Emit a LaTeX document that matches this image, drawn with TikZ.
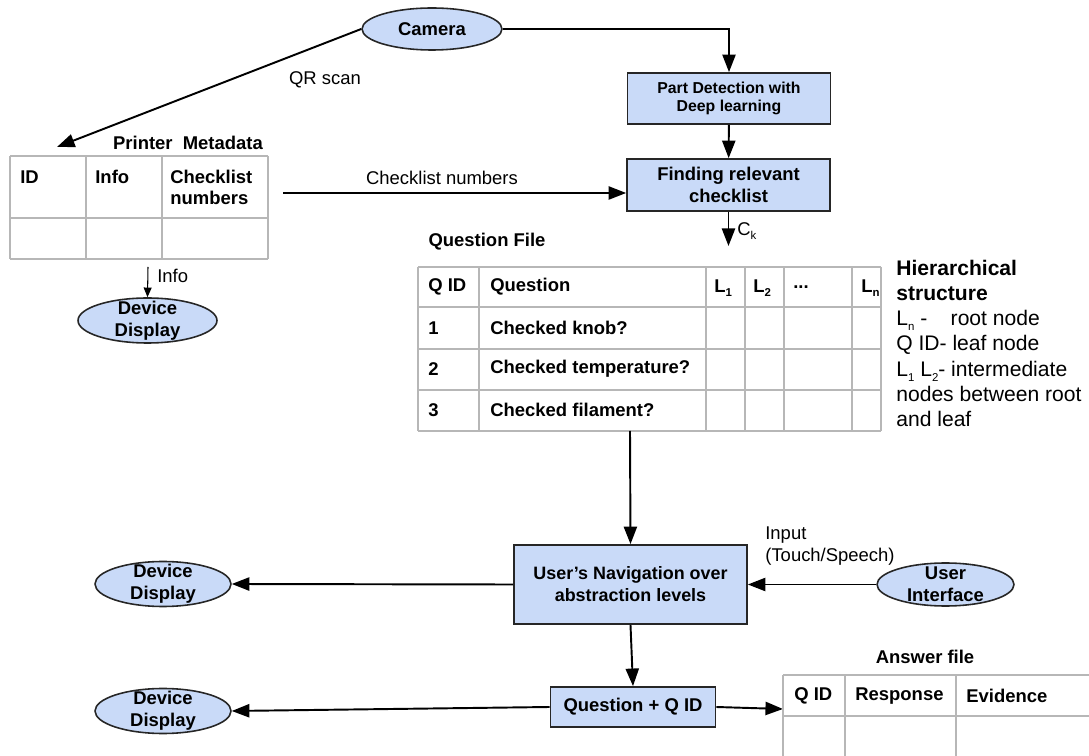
\documentclass[tikz,border=0pt]{standalone}
\usepackage{fontspec}
\setmainfont{Liberation Sans}
\usepackage{tikz}
\usetikzlibrary{shapes.geometric,arrows.meta,calc}

\definecolor{boxblue}{HTML}{C9DAF8}
\definecolor{gridgray}{HTML}{B7B7B7}
\newcommand{\lowsub}[1]{\raisebox{-0.45ex}{\fontsize{6.5}{6.5}\selectfont #1}}

\begin{document}
\begin{tikzpicture}[x=0.02cm,y=-0.02cm,
  blockbox/.style={rectangle,draw=black!85,line width=1pt,fill=boxblue,align=center,inner sep=0pt,
    font=\bfseries\fontsize{10.5}{12.5}\selectfont},
  blob/.style={ellipse,draw=black!85,line width=0.9pt,fill=boxblue,inner sep=0pt},
  blobtext/.style={font=\bfseries\fontsize{10.5}{12.3}\selectfont,align=center},
  flow/.style={line width=1.1pt,-{Triangle[width=7.5pt,length=10pt]}},
  thinflow/.style={line width=0.6pt,-{Triangle[width=4.5pt,length=5.5pt]}},
  gridline/.style={draw=gridgray,line width=0.6pt},
  cell/.style={anchor=west,inner sep=0pt,align=left,font=\bfseries\fontsize{10.5}{12}\selectfont},
  note/.style={inner sep=0pt,align=left,font=\fontsize{10.5}{12.5}\selectfont},
  caption/.style={inner sep=0pt,font=\bfseries\fontsize{10.5}{12}\selectfont}]

\useasboundingbox (0,0) rectangle (1089,756);

% Camera and detection
\node (camera) at (432,29) [blob,minimum width=2.8cm,minimum height=0.84cm] {\bfseries\fontsize{10.5}{12}\selectfont Camera};
\node (partdet) at (729,98.5) [blockbox,minimum width=4.06cm,minimum height=1.02cm,
  font=\bfseries\fontsize{9}{10.3}\selectfont] {Part Detection with\\Deep learning};
\node (findrel) at (728.5,185) [blockbox,minimum width=4.06cm,minimum height=1.04cm] {Finding relevant\\checklist};
\draw[flow] (camera.east) -| (partdet.north);
\draw[flow] (partdet) -- (findrel);

% Printer metadata
\node (prcap) at (188,143) [caption] {Printer\ \ Metadata};
\foreach \xx in {10,86,162,268} \draw[gridline] (\xx,156) -- (\xx,259);
\foreach \yy in {156,218,259} \draw[gridline] (10,\yy) -- (268,\yy);
\node (prid) at (20,177) [cell] {ID};
\node (prinfo) at (95,177) [cell] {Info};
\node (prnum) at (170,187.5) [cell] {Checklist\\numbers};
\coordinate (prtop) at (57,147);
\coordinate (prout) at (283,193);
\coordinate (prbot) at (148,267);
\draw[flow] (camera.west) -- (prtop);
\node (qrlabel) at (325,80) [note] {QR scan};
\draw[flow] (prout) -- (prout -| findrel.west);
\node (cllabel) at (442,178) [note] {Checklist numbers};

\node (dispa) at (147.5,320.5) [blob,minimum width=2.78cm,minimum height=0.9cm,
  label={[blobtext]center:Device\\Display}] {};
\draw[thinflow] (prbot) -- (dispa.north);
\node (infolabel) at (157,276) [note,anchor=west] {Info};

% Question file
\node (qcap) at (487,242) [caption] {Question File};
\foreach \xx in {418,479,706,745,784,852,881} \draw[gridline] (\xx,267) -- (\xx,431);
\foreach \yy in {267,307,349,390,431} \draw[gridline] (418,\yy) -- (881,\yy);
\node (qhid) at (428,287) [cell] {Q ID};
\node (qhq) at (490,287) [cell] {Question};
\node (qhla) at (714,288) [cell] {L\lowsub{1}};
\node (qhlb) at (753,288) [cell] {L\lowsub{2}};
\node (qhdots) at (793,287) [cell] {...};
\node (qhln) at (861,288) [cell] {L\lowsub{n}};
\node (qida) at (428,328) [cell] {1};
\node (qqa) at (490,328) [cell] {Checked knob?};
\node (qidb) at (428,369) [cell] {2};
\node (qqb) at (490,369) [cell] {Checked temperature?};
\node (qidc) at (428,410) [cell] {3};
\node (qqc) at (490,410) [cell] {Checked filament?};
\coordinate (qin) at (728.5,246);
\coordinate (qbot) at (630,431);
\draw[flow] (findrel.south) -- (qin);
\node (cklabel) at (737,231) [note,anchor=west] {C\lowsub{k}};

\node (hier) at (896,260) [anchor=north west,inner sep=0pt,align=left,font=\fontsize{12}{14.3}\selectfont]
  {\textbf{Hierarchical}\\\textbf{structure}\\L\lowsub{n} -\ \ \ \ root node\\Q ID- leaf node\\
   L\lowsub{1} L\lowsub{2}- intermediate\\nodes between root\\and leaf};

% Navigation
\node (usernav) at (630.5,584.5) [blockbox,minimum width=4.66cm,minimum height=1.58cm,
  font=\bfseries\fontsize{10.2}{12.5}\selectfont] {User’s Navigation over\\abstraction levels};
\node (userif) at (945.5,584.5) [blob,minimum width=2.74cm,minimum height=0.86cm,
  label={[blobtext]center:User\\Interface}] {};
\node (dispb) at (163,584) [blob,minimum width=2.72cm,minimum height=0.9cm,
  label={[blobtext]center:Device\\Display}] {};
\draw[flow] (qbot) -- (usernav.north);
\draw[flow] (userif.west) -- (usernav.east);
\draw[flow] (usernav.west) -- (dispb.east);
\node (inlabel) at (765,546) [note,anchor=west] {Input\\(Touch/Speech)};

% Question + answer
\node (quesqid) at (633,707) [blockbox,minimum width=3.3cm,minimum height=0.8cm] {Question + Q ID};
\node (dispc) at (163,711) [blob,minimum width=2.72cm,minimum height=0.9cm,
  label={[blobtext]center:Device\\Display}] {};
\draw[flow] (usernav.south) -- (quesqid.north);
\draw[flow] (quesqid.west) -- (dispc.east);
\coordinate (ansin) at (783,709);
\draw[flow] (quesqid.east) -- (ansin);

\node (anscap) at (925,657) [caption] {Answer file};
\foreach \xx in {783,845,956} \draw[gridline] (\xx,675) -- (\xx,756);
\foreach \yy in {675,716} \draw[gridline] (783,\yy) -- (1089,\yy);
\node (aid) at (794,696) [cell] {Q ID};
\node (aresp) at (855,696) [cell] {Response};
\node (aevid) at (966,696) [cell] {Evidence};

\end{tikzpicture}
\end{document}
